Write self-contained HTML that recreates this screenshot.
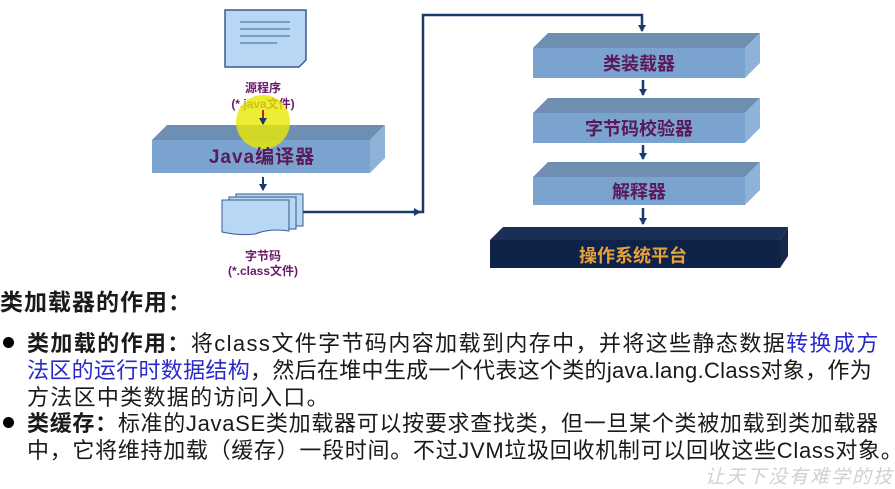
<!DOCTYPE html>
<html><head><meta charset="utf-8"><style>
body{margin:0;width:895px;height:487px;background:#fff;overflow:hidden;position:relative;font-family:"Liberation Sans","Noto Sans CJK SC",sans-serif}
.t{position:absolute;left:27px;font-size:22px;letter-spacing:1px;white-space:nowrap;color:#1a1a1a;line-height:26px}
.b{color:#2a2acc}
.k{font-weight:bold}
.dot{position:absolute;left:3px;width:11px;height:11px;border-radius:50%;background:#000}
</style></head><body>
<svg width="895" height="290" style="position:absolute;left:0;top:0" font-family="Liberation Sans, Noto Sans CJK SC, sans-serif">
<defs>
<marker id="ar" markerWidth="8" markerHeight="8" refX="6" refY="4" orient="auto" markerUnits="userSpaceOnUse"><path d="M0,0 L7,4 L0,8 z" fill="#1a3a6e"/></marker>
</defs>
<path d="M225,10 H306 V60 L299,67 H225 Z" fill="#b7d7f4" stroke="#3a5a90" stroke-width="1.5"/>
<g stroke="#5a78b0" stroke-width="1.2"><line x1="240" y1="22" x2="290" y2="22"/><line x1="240" y1="29" x2="290" y2="29"/><line x1="240" y1="36" x2="290" y2="36"/><line x1="240" y1="43" x2="277" y2="43"/></g>
<text x="263" y="92" font-size="12" fill="#6a1a6a" text-anchor="middle" font-weight="bold">源程序</text>
<text x="263" y="108" font-size="12" fill="#6a1a6a" text-anchor="middle" font-weight="bold">(*.java文件)</text>
<polygon points="152,140 167,125 385,125 370,140" fill="#6e8fb2"/>
<polygon points="370,140 385,125 385,158 370,173" fill="#8fb3d6"/>
<rect x="152" y="140" width="218" height="33" fill="#7ba3cf"/>
<circle cx="263" cy="122" r="27" fill="#e8e800" opacity="0.8"/>
<line x1="263" y1="110" x2="263" y2="124" stroke="#c02020" stroke-width="2" marker-end="url(#ar)"/>
<text x="262" y="163" font-size="19" fill="#5a1a5a" text-anchor="middle" font-weight="bold" letter-spacing="1">Java编译器</text>
<line x1="263" y1="177" x2="263" y2="190" stroke="#1a3a6e" stroke-width="2" marker-end="url(#ar)"/>
<rect x="236" y="194" width="67" height="32" fill="#b7d7f4" stroke="#3a5a90"/>
<rect x="229" y="197" width="67" height="32" fill="#b7d7f4" stroke="#3a5a90"/>
<path d="M222,200 H289 V231 Q270,228 255,234 Q240,236 222,232 Z" fill="#b7d7f4" stroke="#3a5a90"/>
<text x="263" y="260" font-size="12" fill="#6a1a6a" text-anchor="middle" font-weight="bold">字节码</text>
<text x="263" y="275" font-size="12" fill="#6a1a6a" text-anchor="middle" font-weight="bold">(*.class文件)</text>
<polyline points="303,212 423,212 423,15 642,15 642,31" fill="none" stroke="#1a3a6e" stroke-width="2.5" marker-end="url(#ar)"/>
<line x1="412" y1="212" x2="420" y2="212" stroke="#1a3a6e" stroke-width="2.5" marker-end="url(#ar)"/>
<g>
<polygon points="533,48 548,33 760,33 745,48" fill="#6e8fb2"/><polygon points="745,48 760,33 760,63 745,78" fill="#8fb3d6"/><rect x="533" y="48" width="212" height="30" fill="#7ba3cf"/>
<text x="639" y="70" font-size="18" fill="#5a1a5a" text-anchor="middle" font-weight="bold">类装载器</text>
<line x1="643" y1="80" x2="643" y2="95" stroke="#1a3a6e" stroke-width="2.5" marker-end="url(#ar)"/>
<polygon points="533,113 548,98 760,98 745,113" fill="#6e8fb2"/><polygon points="745,113 760,98 760,128 745,143" fill="#8fb3d6"/><rect x="533" y="113" width="212" height="30" fill="#7ba3cf"/>
<text x="639" y="135" font-size="18" fill="#5a1a5a" text-anchor="middle" font-weight="bold">字节码校验器</text>
<line x1="643" y1="145" x2="643" y2="159" stroke="#1a3a6e" stroke-width="2.5" marker-end="url(#ar)"/>
<polygon points="533,177 548,162 760,162 745,177" fill="#6e8fb2"/><polygon points="745,177 760,162 760,190 745,205" fill="#8fb3d6"/><rect x="533" y="177" width="212" height="28" fill="#7ba3cf"/>
<text x="639" y="198" font-size="18" fill="#5a1a5a" text-anchor="middle" font-weight="bold">解释器</text>
<line x1="643" y1="208" x2="643" y2="224" stroke="#1a3a6e" stroke-width="2.5" marker-end="url(#ar)"/>
<polygon points="490,240 503,227 788,227 780,240" fill="#1a2f55"/><polygon points="780,240 788,227 788,256 780,268" fill="#15284a"/><rect x="490" y="240" width="290" height="28" fill="#0f2248"/>
<text x="633" y="262" font-size="18" fill="#e8a23a" text-anchor="middle" font-weight="bold">操作系统平台</text>
</g>
</svg>
<div class="t k" style="left:0;top:289px;font-size:23px;letter-spacing:1px">类加载器的作用：</div>
<div class="dot" style="top:337px"></div>
<div class="dot" style="top:417px"></div>
<div class="t" style="top:331px;letter-spacing:1.4px"><span class="k">类加载的作用：</span>将class文件字节码内容加载到内存中，并将这些静态数据<span class="b">转换成方</span></div>
<div class="t" style="top:358px;letter-spacing:0.3px"><span class="b">法区的运行时数据结构</span>，然后在堆中生成一个代表这个类的java.lang.Class对象，作为</div>
<div class="t" style="top:385px;letter-spacing:1.3px">方法区中类数据的访问入口。</div>
<div class="t" style="top:411px;letter-spacing:0.7px"><span class="k">类缓存：</span>标准的JavaSE类加载器可以按要求查找类，但一旦某个类被加载到类加载器</div>
<div class="t" style="top:438px;letter-spacing:0.7px">中，它将维持加载（缓存）一段时间。不过JVM垃圾回收机制可以回收这些Class对象。</div>
<div style="position:absolute;left:705px;top:462px;font-size:19px;color:#d0d0d0;font-style:italic;letter-spacing:2px;white-space:nowrap">让天下没有难学的技</div>
</body></html>
